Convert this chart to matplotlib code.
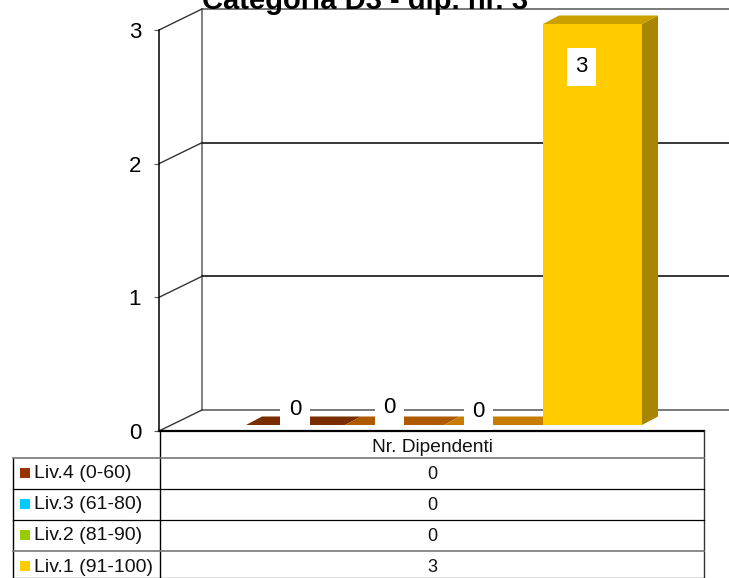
import matplotlib
matplotlib.use('Agg')
import matplotlib.pyplot as plt

plt.rcParams['font.family'] = ['Liberation Sans', 'DejaVu Sans']

title = 'Categoria D3 - dip. nr. 3'
column = 'Nr. Dipendenti'
levels = ['Liv.4 (0-60)', 'Liv.3 (61-80)', 'Liv.2 (81-90)', 'Liv.1 (91-100)']
values = [0, 0, 0, 3]
yticks = [0, 1, 2, 3]
legend_colors = ['#993300', '#00ccff', '#99cc00', '#ffcc00']
front_colors = ['#993300', '#d06a00', '#e08c00', '#ffcc00']
top_colors = ['#7a2e00', '#b05a00', '#c87d00', '#c9a000']
side_colors = ['#6a2400', '#9a4c00', '#a86800', '#a88600']

W, H = 729, 578
fig = plt.figure(figsize=(W / 100, H / 100), dpi=100)

# axes covers the front plane of the 3d box, x is in pixels
ax = fig.add_axes([159 / W, 1 - 431 / H, (W - 159) / W, (431 - 30) / H])
ax.set_xlim(159, W)
ax.set_ylim(0, 3)
ax.patch.set_visible(False)
unit = (431 - 30) / 3
dx, dy = 43, 21 / unit

for s in ['top', 'right']:
    ax.spines[s].set_visible(False)
ax.spines['left'].set_linewidth(1.1)
ax.spines['left'].set_color('black')
ax.spines['bottom'].set_bounds(159, 704)
ax.spines['bottom'].set_linewidth(1.6)
ax.set_xticks([])
ax.set_yticks(yticks)
ax.tick_params(axis='y', length=3.5, width=0.8, color='#555555', labelsize=16, pad=9.3)

# walls
ax.plot([159 + dx] * 2, [dy, 3 + dy], color='#808080', lw=1.4, clip_on=False, zorder=1)
for t in yticks:
    if t in (0, 3):
        col, lw = '#6e6e6e', 1.3
    else:
        col, lw = 'black', 1.1
    ax.plot([159 + dx, W], [t + dy] * 2, color=col, lw=lw, clip_on=False, zorder=1)
    ax.plot([159, 159 + dx], [t, t + dy], color='#333333', lw=1.0, clip_on=False, zorder=1)

# bars
bar_w = 99
first_x = 246
base = 6 / unit
depth_x, depth_y = 16, 8.5 / unit
for i, v in enumerate(values):
    l = first_x + i * bar_w
    r = l + bar_w
    b = base
    t = base + v
    ax.fill([l, r, r, l], [b, b, t, t], color=front_colors[i], lw=0, clip_on=False, zorder=2 + i)
    ax.fill([r, r + depth_x, r + depth_x, r], [b, b + depth_y, t + depth_y, t],
            color=side_colors[i], lw=0, clip_on=False, zorder=2 + i)
    ax.fill([l, l + depth_x, r + depth_x, r], [t, t + depth_y, t + depth_y, t],
            color=top_colors[i], lw=0, clip_on=False, zorder=2 + i)

# value labels
label_text = [(295, 0.163), (389.5, 0.178), (478.5, 0.148), (581.5, 2.725)]
for v, (tx, ty) in zip(values, label_text):
    ax.text(tx, ty, str(v), ha='center', va='center', fontsize=16, color='black', zorder=10,
            bbox=dict(facecolor='white', edgecolor='none', pad=6), clip_on=False)

fig.text(365 / W, 1 - 9 / H, title, ha='center', va='baseline', fontsize=21, fontweight='bold')

# data table below the axis, pixel coordinates
tb = fig.add_axes([0, 0, 1, 1])
tb.set_xlim(0, W)
tb.set_ylim(H, 0)
tb.axis('off')
tb.patch.set_visible(False)

row_y = [457.5, 488.5, 519.5, 551, 577.5]
left, mid, right = 13.5, 160.5, 704
tb.plot([mid, mid], [431, 578], color='black', lw=1.0)
tb.plot([right, right], [431, 578], color='#333333', lw=1.0)
tb.plot([left, left], [row_y[0], 578], color='black', lw=1.0)
for i, y in enumerate(row_y):
    col = '#777777' if i in (0, 3) else 'black'
    tb.plot([left, right], [y, y], color=col, lw=1.2 if i in (0, 3) else 0.9)

tb.text((mid + right) / 2, 447, column, ha='center', va='center', fontsize=13.8, color='#111111')
for i, lab in enumerate(levels):
    cy = row_y[i] + 15
    tb.fill([20, 30, 30, 20], [cy - 5, cy - 5, cy + 5, cy + 5], color=legend_colors[i], lw=0)
    tb.text(34.5, cy + 1, lab, ha='left', va='center', fontsize=14, color='#111111')
    tb.text(432, cy + 2, str(values[i]), ha='center', va='center', fontsize=13, color='#111111')

fig.savefig('out.png', dpi=100)
